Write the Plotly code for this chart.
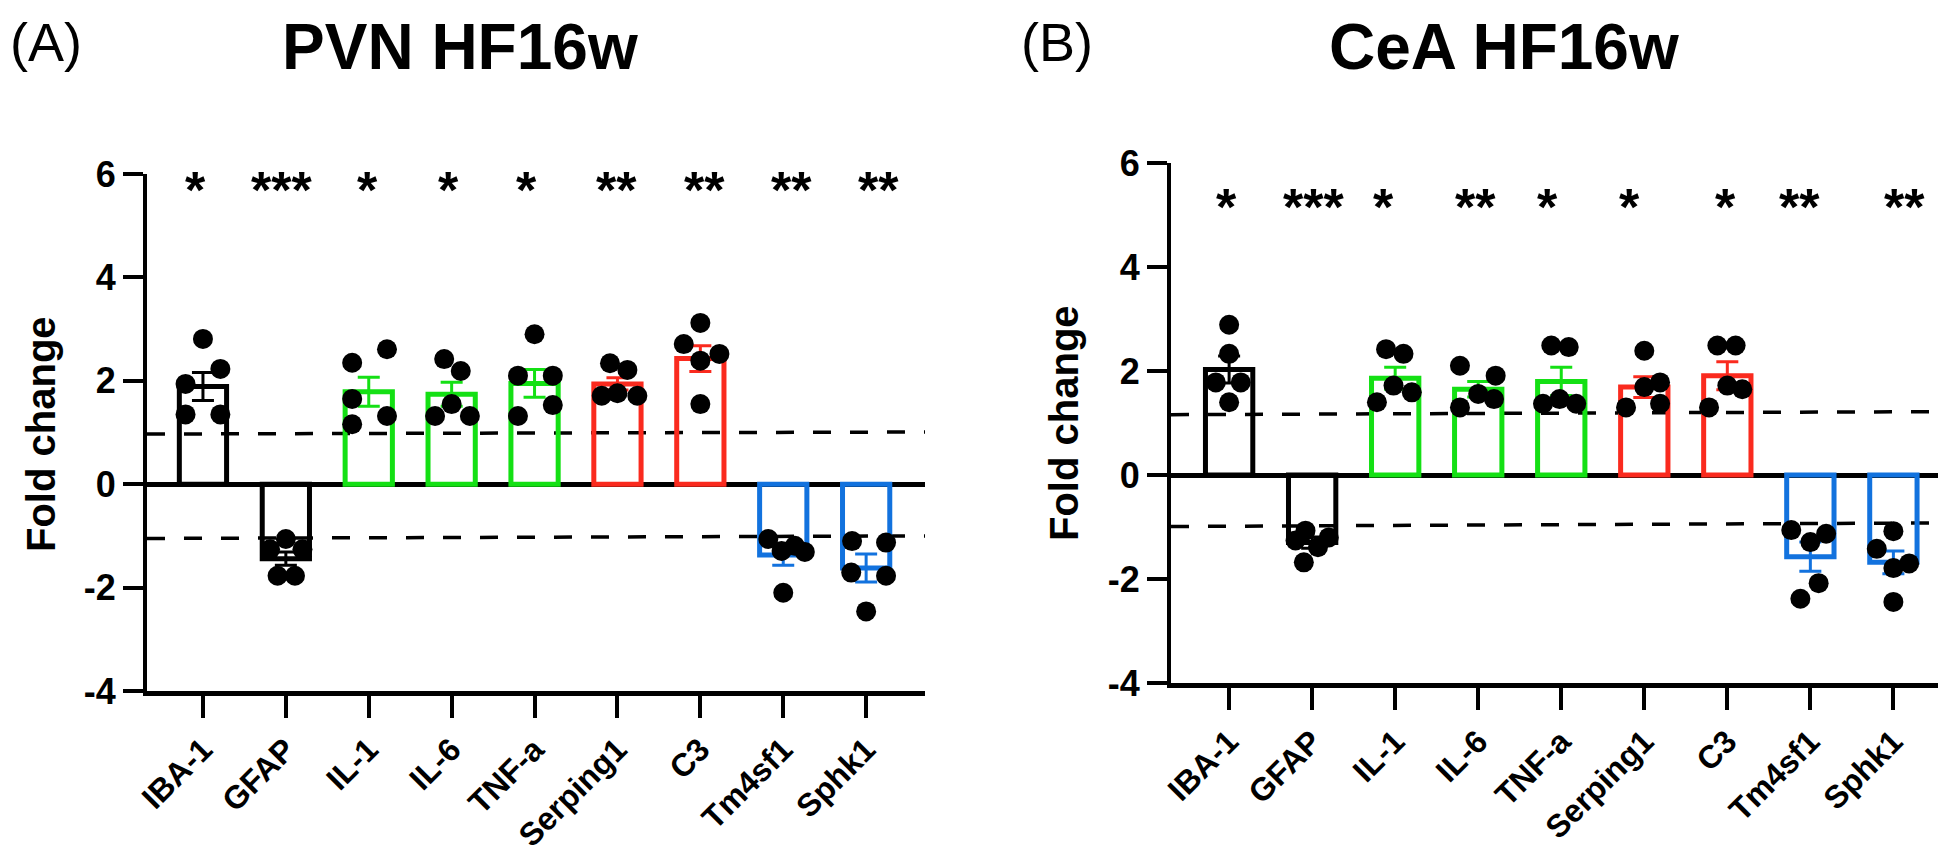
import plotly.graph_objects as go

W, H = 1946, 853

genes = ["IBA-1", "GFAP", "IL-1", "IL-6", "TNF-a", "Serping1", "C3", "Tm4sf1", "Sphk1"]
bar_colors = ["#000000", "#000000", "#14e014", "#14e014", "#14e014",
              "#fa2a1e", "#fa2a1e", "#1272de", "#1272de"]
y_ticks = [-4, -2, 0, 2, 4, 6]
y_ticklabels = ["-4", "-2", "0", "2", "4", "6"]

# Panel A: PVN HF16w
mean_A = [1.89, -1.44, 1.79, 1.74, 1.95, 1.94, 2.43, -1.37, -1.62]
sem_A = [0.27, 0.13, 0.28, 0.23, 0.27, 0.12, 0.25, 0.20, 0.27]
dots_A = [
    [2.81, 2.23, 1.94, 1.35, 1.35],
    [-1.06, -1.26, -1.26, -1.77, -1.77],
    [2.61, 2.35, 1.65, 1.32, 1.16],
    [2.42, 2.19, 1.55, 1.32, 1.32],
    [2.90, 2.10, 2.10, 1.53, 1.32],
    [2.34, 2.21, 1.71, 1.76, 1.71],
    [3.12, 2.71, 2.52, 2.39, 1.55],
    [-1.06, -1.29, -1.19, -1.31, -2.10],
    [-1.10, -1.13, -1.71, -1.77, -2.46],
]
stars_A = ["*", "***", "*", "*", "*", "**", "**", "**", "**"]
ref_A = [[0.97, 1.01], [-1.05, -1.00]]

# Panel B: CeA HF16w
mean_B = [2.03, -1.30, 1.86, 1.65, 1.80, 1.69, 1.91, -1.57, -1.68]
sem_B = [0.26, 0.11, 0.21, 0.15, 0.27, 0.20, 0.27, 0.28, 0.22]
dots_B = [
    [2.89, 2.33, 1.78, 1.78, 1.40],
    [-1.26, -1.07, -1.39, -1.20, -1.68],
    [2.42, 2.33, 1.72, 1.59, 1.40],
    [2.10, 1.91, 1.56, 1.46, 1.30],
    [2.49, 2.46, 1.46, 1.37, 1.37],
    [2.39, 1.78, 1.69, 1.37, 1.30],
    [2.49, 2.49, 1.72, 1.65, 1.30],
    [-1.06, -1.13, -1.29, -2.08, -2.38],
    [-1.08, -1.42, -1.70, -1.79, -2.44],
]
stars_B = ["*", "***", "*", "**", "*", "*", "*", "**", "**"]
ref_B = [[1.16, 1.22], [-0.99, -0.92]]

# horizontal scatter of the dots (category units) -- layout only
jit_A = [
    [0, 0.21, -0.21, -0.21, 0.21],
    [0, -0.19, 0.2, -0.1, 0.11],
    [0.22, -0.2, -0.2, 0.22, -0.2],
    [-0.09, 0.11, 0, -0.2, 0.22],
    [0, -0.2, 0.22, 0.22, -0.2],
    [-0.09, 0.12, -0.19, 0, 0.24],
    [0, -0.2, 0.23, 0, 0],
    [-0.18, -0.02, 0.14, 0.26, 0],
    [-0.17, 0.24, -0.18, 0.24, 0],
]
jit_B = [
    [0, 0, -0.16, 0.14, 0],
    [-0.2, -0.08, 0.07, 0.2, -0.1],
    [-0.11, 0.1, -0.02, 0.2, -0.22],
    [-0.22, 0.21, 0, 0.19, -0.22],
    [-0.12, 0.09, -0.02, -0.22, 0.18],
    [0, 0.19, 0, 0.19, -0.22],
    [-0.12, 0.1, 0, 0.18, -0.22],
    [-0.23, 0.19, 0, 0.1, -0.12],
    [0, -0.2, 0.19, 0, 0],
]
star_shift_A = [-7, -4, -1, -3, -8, -1, 4, 8, 12]
star_shift_B = [-3, 1, -12, -3, -14, -15, -2, -11, 11]

FONT = "Liberation Sans, Arial, Helvetica, sans-serif"

fig = go.Figure()


def px_x(v):
    return v / W


def px_y(v):
    return 1 - v / H


panels = [
    dict(mean=mean_A, sem=sem_A, dots=dots_A, jit=jit_A, stars=stars_A, ref=ref_A,
         shift=star_shift_A, xa="x", ya="y", star_y=5.7),
    dict(mean=mean_B, sem=sem_B, dots=dots_B, jit=jit_B, stars=stars_B, ref=ref_B,
         shift=star_shift_B, xa="x2", ya="y2", star_y=5.15),
]

xranges = [[-0.675, 8.71], [-0.70, 8.73]]
annotations = []
shapes = []

for p, pan in enumerate(panels):
    for i, g in enumerate(genes):
        fig.add_trace(go.Bar(
            x=[i], y=[pan["mean"][i]], width=0.57,
            marker=dict(color="rgba(0,0,0,0)", line=dict(color=bar_colors[i], width=5)),
            error_y=dict(type="data", array=[pan["sem"][i]], visible=True,
                         color=bar_colors[i], thickness=3, width=11),
            xaxis=pan["xa"], yaxis=pan["ya"], showlegend=False, hoverinfo="skip",
        ))
    xs, ys = [], []
    for i in range(len(genes)):
        for v, j in zip(pan["dots"][i], pan["jit"][i]):
            xs.append(i + j)
            ys.append(v)
    fig.add_trace(go.Scatter(
        x=xs, y=ys, mode="markers",
        marker=dict(color="black", size=20, line=dict(width=0)),
        xaxis=pan["xa"], yaxis=pan["ya"], showlegend=False, hoverinfo="skip",
    ))
    xr = xranges[p]
    for r in pan["ref"]:
        shapes.append(dict(type="line", xref=pan["xa"], yref=pan["ya"],
                           x0=xr[0], x1=xr[1], y0=r[0], y1=r[1],
                           line=dict(color="black", width=3.5, dash="18px,19px"),
                           layer="below"))
    for i, s in enumerate(pan["stars"]):
        annotations.append(dict(xref=pan["xa"], yref=pan["ya"], x=i, y=pan["star_y"],
                                text="<b>" + s + "</b>", showarrow=False,
                                xshift=pan["shift"][i],
                                font=dict(family=FONT, size=52, color="black"),
                                xanchor="center", yanchor="middle"))

# Titles, panel letters, axis titles
annotations += [
    dict(xref="paper", yref="paper", x=px_x(452), y=px_y(39), text="<b>PVN HF16w</b>",
         showarrow=False, font=dict(family=FONT, size=64, color="black"),
         xanchor="center", yanchor="middle"),
    dict(xref="paper", yref="paper", x=px_x(1496), y=px_y(39), text="<b>CeA HF16w</b>",
         showarrow=False, font=dict(family=FONT, size=64, color="black"),
         xanchor="center", yanchor="middle"),
    dict(xref="paper", yref="paper", x=px_x(38), y=px_y(34), text="(A)",
         showarrow=False, font=dict(family=FONT, size=54, color="black"),
         xanchor="center", yanchor="middle"),
    dict(xref="paper", yref="paper", x=px_x(1049), y=px_y(34), text="(B)",
         showarrow=False, font=dict(family=FONT, size=54, color="black"),
         xanchor="center", yanchor="middle"),
    dict(xref="paper", yref="paper", x=px_x(33), y=px_y(426), text="<b>Fold change</b>",
         showarrow=False, textangle=-90, font=dict(family=FONT, size=40, color="black"),
         xanchor="center", yanchor="middle"),
    dict(xref="paper", yref="paper", x=px_x(1056), y=px_y(415), text="<b>Fold change</b>",
         showarrow=False, textangle=-90, font=dict(family=FONT, size=40, color="black"),
         xanchor="center", yanchor="middle"),
]

ytickfont = dict(family=FONT, size=36, color="black", weight="bold")
xtickfont = dict(family=FONT, size=32, color="black", weight="bold")

xaxis_common = dict(
    tickmode="array", tickvals=list(range(len(genes))), ticktext=genes,
    tickangle=-45, tickfont=xtickfont, showline=True, linecolor="black", linewidth=5,
    ticks="outside", ticklen=22, tickwidth=4, tickcolor="black",
    showgrid=False, zeroline=False, fixedrange=True, automargin=False,
)
yaxis_common = dict(
    range=[-4, 6], tickmode="array", tickvals=y_ticks, ticktext=y_ticklabels,
    tickfont=ytickfont,
    showline=True, linecolor="black", linewidth=4, ticks="outside", ticklen=20,
    tickwidth=4, tickcolor="black", showgrid=False,
    zeroline=True, zerolinecolor="black", zerolinewidth=5, fixedrange=True,
    automargin=False,
)

fig.update_layout(
    template="none",
    width=W, height=H,
    margin=dict(l=0, r=0, t=0, b=0, pad=0),
    paper_bgcolor="white", plot_bgcolor="white",
    barmode="overlay",
    xaxis=dict(domain=[px_x(139), px_x(917)], range=xranges[0], anchor="y", **xaxis_common),
    yaxis=dict(domain=[px_y(683), px_y(166)], anchor="x", **yaxis_common),
    xaxis2=dict(domain=[px_x(1163), 1.0], range=xranges[1], anchor="y2", **xaxis_common),
    yaxis2=dict(domain=[px_y(675), px_y(155)], anchor="x2", **yaxis_common),
    annotations=annotations,
    shapes=shapes,
    font=dict(family=FONT, color="black"),
)

fig.write_html("out.html")
